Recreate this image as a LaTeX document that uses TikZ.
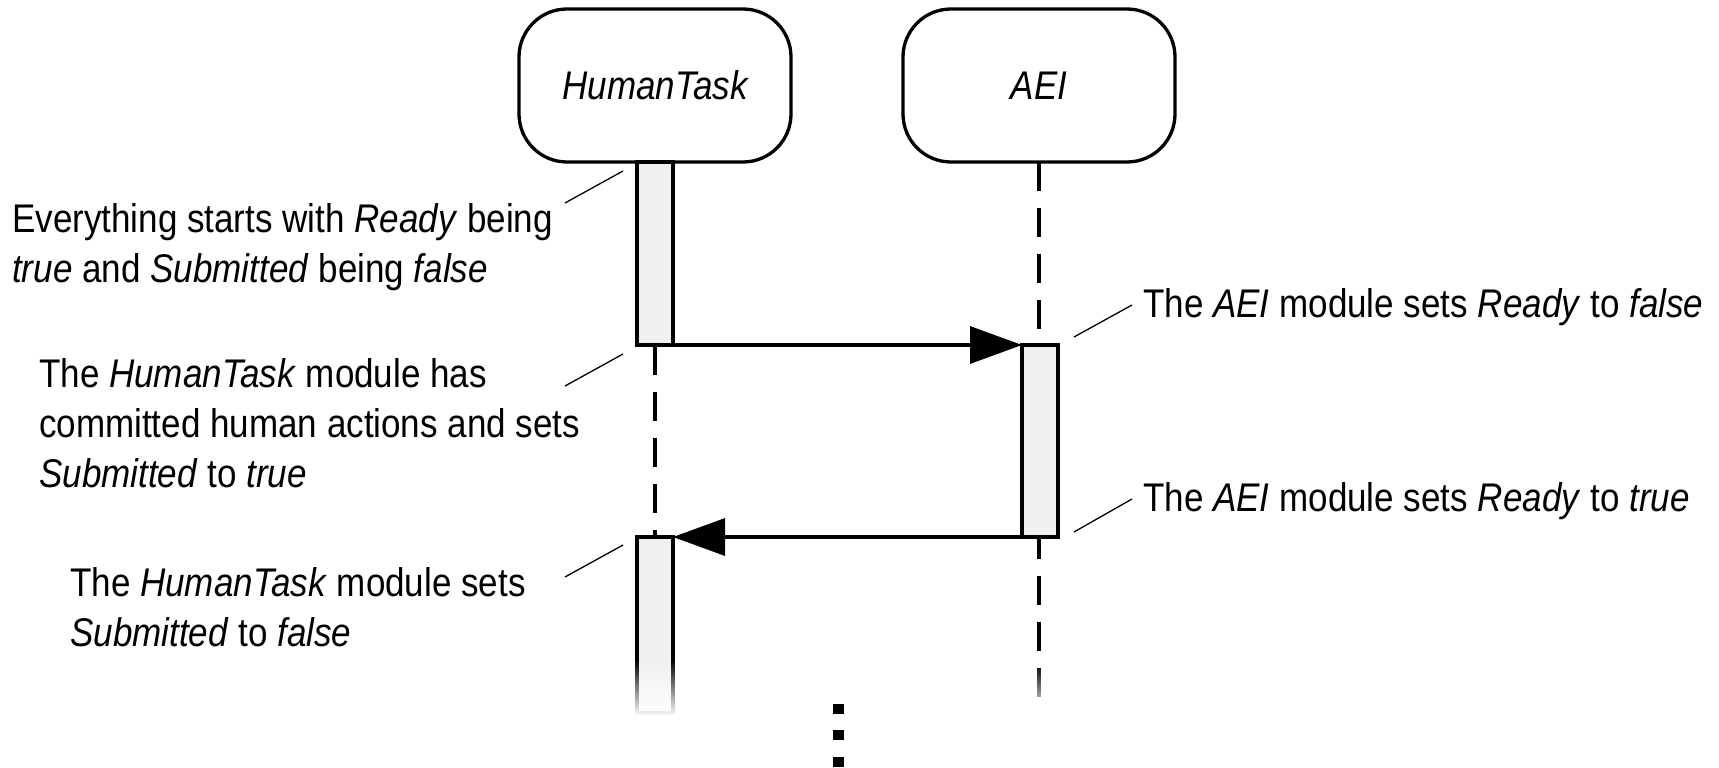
\documentclass[tikz,border=0pt]{standalone}
\usepackage{fontspec}
\setmainfont{Liberation Sans}[FakeStretch=0.875]
\usetikzlibrary{arrows.meta,fadings}
\definecolor{barfill}{HTML}{F0F0F0}
\tikzfading[name=fadedown, top color=transparent!100, bottom color=transparent!0]
\begin{document}
\begin{tikzpicture}[x=1pt,y=-1pt,
  obj/.style={draw, line width=3.3pt, rounded corners=48pt, minimum width=272pt, minimum height=153pt, inner sep=0pt, outer sep=0pt, font=\fontsize{40}{50}\selectfont\itshape},
  actbar/.style={draw, line width=3.3pt, fill=barfill, minimum width=36pt, inner sep=0pt, outer sep=0pt},
  lifeline/.style={line width=3.3pt, dash pattern=on 29pt off 17pt},
  msg/.style={line width=3.3pt, -{Triangle[length=52pt,width=37pt]}},
  note/.style={line width=1.3pt},
  txt/.style={align=left, anchor=base west, inner sep=0pt, font=\fontsize{40}{50}\selectfont},
  dotsq/.style={fill=black, minimum size=10.5pt, inner sep=0pt}]
\useasboundingbox (0,0) rectangle (1719,768);
% objects
\node[obj] (ht) at (655,85.5) {HumanTask};
\node[obj] (aei) at (1039,85.5) {AEI};
% lifeline ends
\coordinate (htend) at (655,713);
\coordinate (aeiend) at (1039,713);
\draw[lifeline] (ht.south) -- (htend);
\draw[lifeline] (aei.south) -- (aeiend);
% activation bars
\node[actbar, minimum height=183pt, anchor=north] (b1) at (655,162) {};
\node[actbar, minimum height=192pt, anchor=north] (b2) at (1040,345) {};
\node[actbar, minimum height=176pt, anchor=north] (b3) at (655,537) {};
% messages
\draw[msg] (b1.south east) -- (b2.north west);
\draw[msg] (b2.south west) -- (b3.north east);
% fade at the bottom
\fill[white, path fading=fadedown] (628,660) rectangle (682,716);
\fill[white, path fading=fadedown] (1025,664) rectangle (1053,716);
% continuation dots
\node[dotsq] (d1) at (838.5,709) {};
\node[dotsq] (d2) at (838.5,735) {};
\node[dotsq] (d3) at (838.5,762) {};
% notes (anchored at the baseline of the last line)
\node[txt] (n1) at (12,282) {Everything starts with \textit{Ready} being\\\textit{true} and \textit{Submitted} being \textit{false}};
\node[txt] (n2) at (39,487) {The \textit{HumanTask} module has\\committed human actions and sets\\\textit{Submitted} to \textit{true}};
\node[txt] (n3) at (70,646) {The \textit{HumanTask} module sets\\\textit{Submitted} to \textit{false}};
\node[txt] (n4) at (1143,317) {The \textit{AEI} module sets \textit{Ready} to \textit{false}};
\node[txt] (n5) at (1143,511) {The \textit{AEI} module sets \textit{Ready} to \textit{true}};
% note leaders
\coordinate (l1a) at (565,203); \coordinate (l1b) at (623,171);
\coordinate (l2a) at (565,386); \coordinate (l2b) at (623,354);
\coordinate (l3a) at (565,577); \coordinate (l3b) at (623,545);
\coordinate (l4a) at (1074,337); \coordinate (l4b) at (1132,305);
\coordinate (l5a) at (1074,532); \coordinate (l5b) at (1132,499);
\draw[note] (l1a) -- (l1b);
\draw[note] (l2a) -- (l2b);
\draw[note] (l3a) -- (l3b);
\draw[note] (l4a) -- (l4b);
\draw[note] (l5a) -- (l5b);
\end{tikzpicture}
\end{document}
